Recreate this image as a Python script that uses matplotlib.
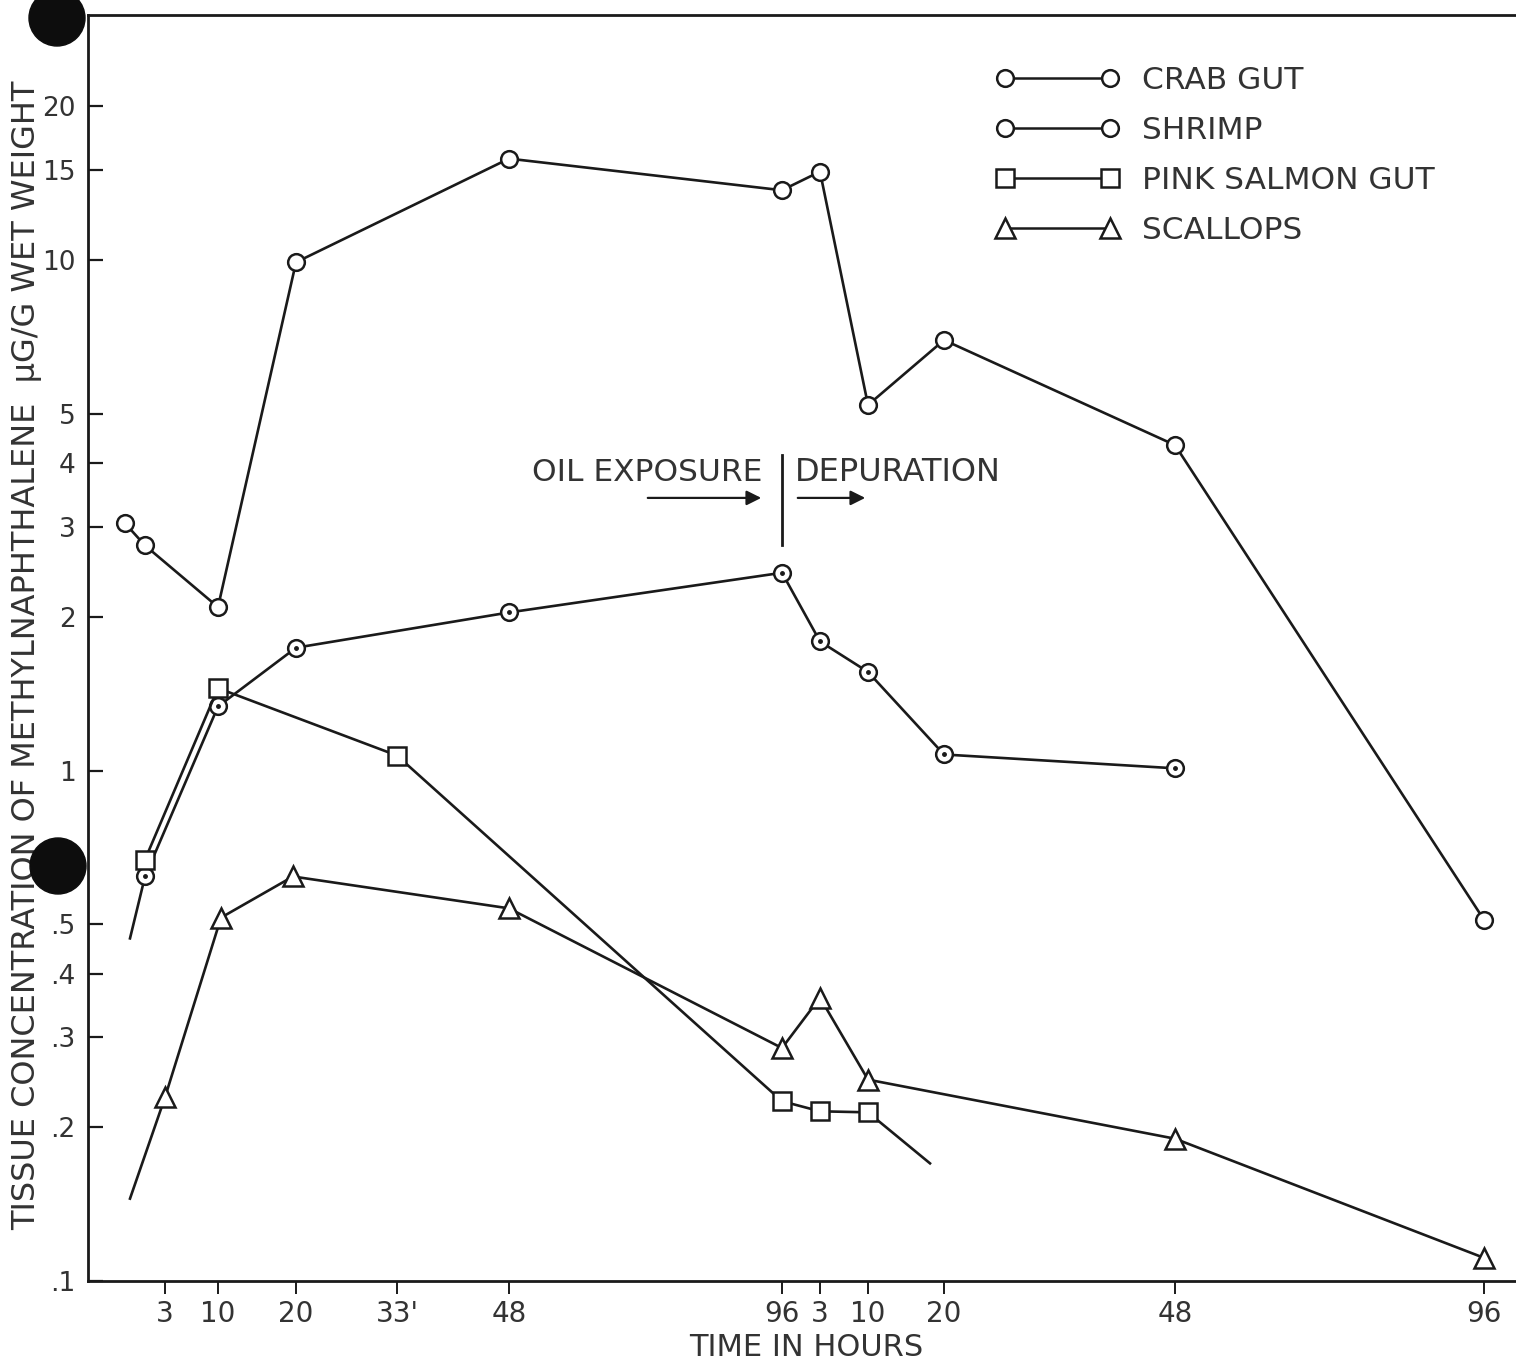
import matplotlib.pyplot as plt
from matplotlib.patches import Ellipse
from matplotlib.lines import Line2D

# time axis: position of each labelled time on the (non-uniform) hour axis
tick_pos = [7.7, 13.0, 20.8, 30.9, 42.1, 69.4, 73.2, 78.0, 85.6, 108.7, 139.6]
tick_labels = ["3", "10", "20", "33'", "48", "96", "3", "10", "20", "48", "96"]

# crab gut
crab_x = [3.7, 5.7, 13.0, 20.8, 42.1, 69.4, 73.2, 78.0, 85.6, 108.7, 139.6]
crab_y = [3.05, 2.76, 2.09, 9.9, 15.8, 13.7, 14.9, 5.2, 6.97, 4.34, 0.51]

# shrimp (line starts from an unmarked point)
shrimp_x = [4.2, 5.7, 13.0, 20.8, 42.1, 69.4, 73.2, 78.0, 85.6, 108.7]
shrimp_y = [0.469, 0.62, 1.335, 1.74, 2.04, 2.44, 1.79, 1.56, 1.075, 1.01]

# pink salmon gut (line ends at an unmarked point)
salmon_x = [5.7, 13.0, 30.9, 69.4, 73.2, 78.0, 84.2]
salmon_y = [0.669, 1.45, 1.07, 0.225, 0.215, 0.214, 0.17]

# scallops (line starts from an unmarked point)
scallop_x = [4.2, 7.7, 13.3, 20.5, 42.1, 69.4, 73.2, 78.0, 108.7, 139.6]
scallop_y = [0.145, 0.229, 0.515, 0.62, 0.537, 0.286, 0.359, 0.248, 0.19, 0.111]

y_ticks = [20, 15, 10, 5, 4, 3, 2, 1, .5, .4, .3, .2, .1]
y_labels = ["20", "15", "10", "5", "4", "3", "2", "1", ".5", ".4", ".3", ".2", ".1"]

ink = "#1a1a1a"
txt = "#333333"
plt.rcParams['font.family'] = ['DejaVu Sans']

fig = plt.figure(figsize=(15.16, 13.64), dpi=100, facecolor='white')
ax = fig.add_axes([88/1516, 1-1281/1364, 1428/1516, (1281-15)/1364])

lw = 1.9
ax.plot(crab_x, crab_y, color=ink, lw=lw, marker='o', ms=12, mfc='white', mec=ink, mew=1.8)
ax.plot(shrimp_x, shrimp_y, color=ink, lw=lw, marker='o', ms=12, mfc='white', mec=ink, mew=1.8,
        markevery=list(range(1, len(shrimp_x))))
ax.plot(shrimp_x[1:], shrimp_y[1:], ls='none', marker='.', ms=5, color=ink)
ax.plot(salmon_x, salmon_y, color=ink, lw=lw, marker='s', ms=13, mfc='white', mec=ink, mew=1.8,
        markevery=list(range(0, len(salmon_x) - 1)))
ax.plot(scallop_x, scallop_y, color=ink, lw=lw, marker='^', ms=15, mfc='white', mec=ink, mew=1.8,
        markevery=list(range(1, len(scallop_x))))

ax.set_yscale('log')
ax.set_ylim(0.1, 30.2)
ax.set_xlim(0, 142.8)
ax.set_yticks(y_ticks)
ax.set_yticklabels(y_labels)
ax.minorticks_off()
ax.set_xticks(tick_pos)
ax.set_xticklabels(tick_labels)
ax.tick_params(axis='y', direction='in', length=11, width=1.6, pad=9, labelsize=19, colors=ink, labelcolor=txt)
ax.tick_params(axis='x', direction='out', length=9, width=1.4, pad=5, labelsize=20, colors=ink, labelcolor=txt)
ax.spines['right'].set_visible(False)
for s in ['left', 'bottom', 'top']:
    ax.spines[s].set_linewidth(2)
    ax.spines[s].set_color(ink)

# exposure / depuration divider
ax.plot([69.4, 69.4], [2.76, 4.15], color=ink, lw=2)
ax.text(44.4, 3.84, "OIL EXPOSURE", fontsize=22.5, color=txt, va='center', ha='left')
ax.text(70.7, 3.84, "DEPURATION", fontsize=23, color=txt, va='center', ha='left')
ax.annotate("", xy=(67.6, 3.42), xytext=(55.7, 3.42),
            arrowprops=dict(arrowstyle='-|>', color=ink, lw=1.6, mutation_scale=22))
ax.annotate("", xy=(78.0, 3.42), xytext=(70.7, 3.42),
            arrowprops=dict(arrowstyle='-|>', color=ink, lw=1.6, mutation_scale=22))

handles = [
    Line2D([], [], color=ink, lw=1.8, marker='o', ms=12, mfc='white', mec=ink, mew=1.8),
    Line2D([], [], color=ink, lw=1.8, marker='o', ms=12, mfc='white', mec=ink, mew=1.8),
    Line2D([], [], color=ink, lw=1.8, marker='s', ms=13, mfc='white', mec=ink, mew=1.8),
    Line2D([], [], color=ink, lw=1.8, marker='^', ms=15, mfc='white', mec=ink, mew=1.8),
]
leg = fig.legend(handles, ["CRAB GUT", "SHRIMP", "PINK SALMON GUT", "SCALLOPS"],
                 loc='upper left', bbox_to_anchor=(980/1516, 1-50/1364), frameon=False,
                 numpoints=2, handlelength=3.96, handletextpad=0.74, labelspacing=0.68,
                 borderpad=0, fontsize=22.5)
for t in leg.get_texts():
    t.set_color(txt)

fig.text(27/1516, 1-655/1364, "TISSUE CONCENTRATION OF METHYLNAPHTHALENE  \u03bcG/G WET WEIGHT",
         rotation=90, ha='center', va='center', fontsize=23, color=txt)
fig.text(806/1516, 1-1348/1364, "TIME IN HOURS", ha='center', va='center', fontsize=22, color=txt)

# punched holes in the scanned page
for cx, cy in [(57, 18), (58, 866)]:
    fig.add_artist(Ellipse((cx/1516, 1-cy/1364), 56/1516, 56/1364, transform=fig.transFigure,
                           color='#0d0d0d', zorder=10))

fig.savefig("out.png", dpi=100, facecolor='white')
